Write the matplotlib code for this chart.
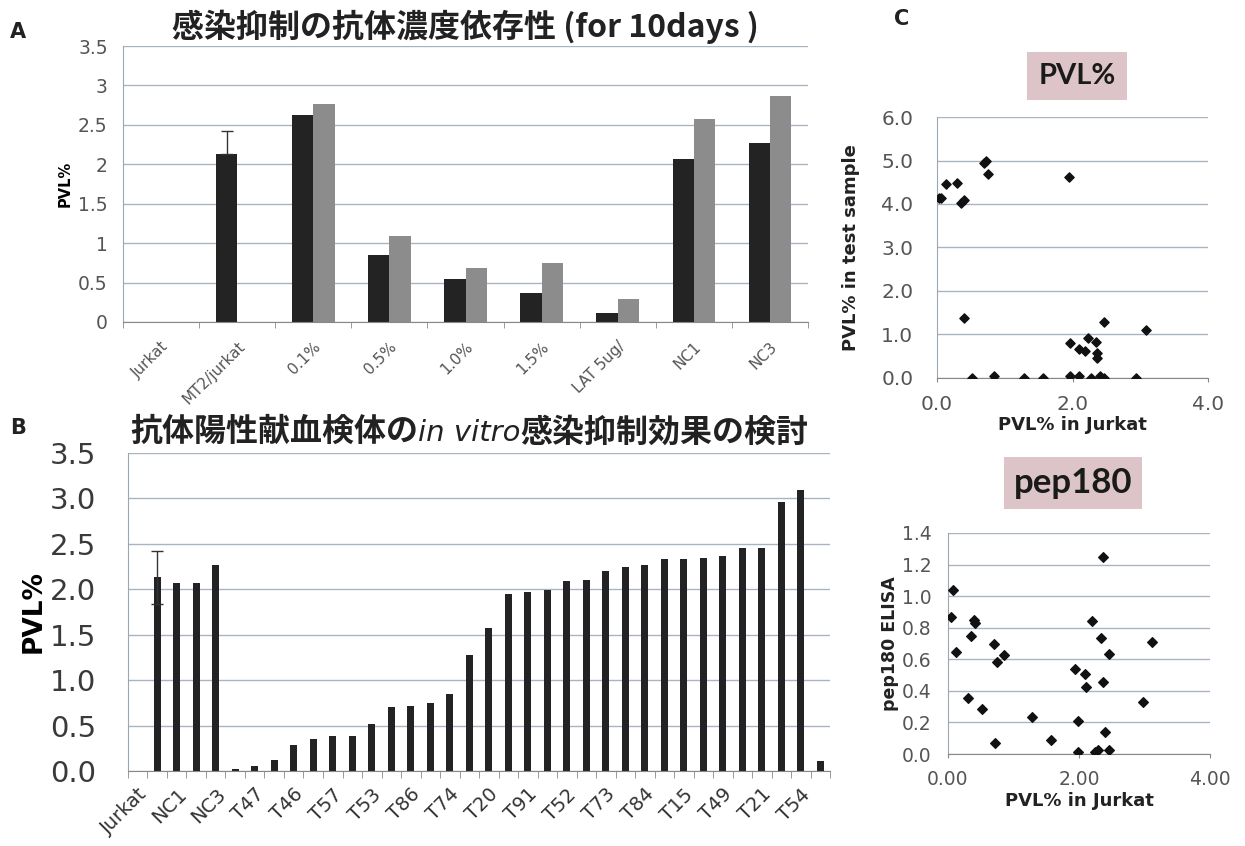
import numpy as np
import matplotlib
matplotlib.use("Agg")
import matplotlib.pyplot as plt
from matplotlib.offsetbox import TextArea, HPacker, AnnotationBbox

plt.rcParams['font.family'] = ['DejaVu Sans', 'Noto Sans CJK JP']

# ---- panel A data ----
a_labels = ["Jurkat", "MT2/jurkat", "0.1%", "0.5%", "1.0%", "1.5%", "LAT 5ug/", "NC1", "NC3"]
a_dark = [np.nan, 2.13, 2.62, 0.85, 0.55, 0.37, 0.11, 2.07, 2.27]
a_gray = [np.nan, np.nan, 2.77, 1.09, 0.68, 0.75, 0.29, 2.57, 2.87]
a_err_top = 2.42  # MT2/jurkat upper error

# ---- panel B data ----
b_values = [0, 2.13, 2.07, 2.07, 2.27, 0.02, 0.05, 0.12, 0.29, 0.35, 0.39, 0.39,
            0.52, 0.70, 0.72, 0.75, 0.85, 1.28, 1.57, 1.95, 1.97, 1.99, 2.09, 2.10,
            2.20, 2.24, 2.27, 2.33, 2.33, 2.34, 2.37, 2.45, 2.46, 2.96, 3.09, 0.11]
b_labels = ["Jurkat", "NC1", "NC3", "T47", "T46", "T57", "T53", "T86", "T74",
            "T20", "T91", "T52", "T73", "T84", "T15", "T49", "T21", "T54"]
b_err = 0.29

# ---- panel C data ----
c1_x = [0.03, 0.06, 0.14, 0.30, 0.35, 0.40, 0.70, 0.73, 0.75, 1.95, 0.40, 0.52,
        0.84, 1.28, 1.56, 1.96, 1.97, 2.10, 2.09, 2.19, 2.23, 2.28, 2.35, 2.36,
        2.36, 2.40, 2.47, 2.47, 2.94, 3.09]
c1_y = [4.14, 4.14, 4.45, 4.48, 4.03, 4.09, 4.94, 4.99, 4.70, 4.61, 1.38, 0.0,
        0.05, 0.0, 0.0, 0.80, 0.05, 0.05, 0.67, 0.61, 0.91, 0.0, 0.83, 0.58,
        0.47, 0.05, 0.0, 1.28, 0.0, 1.10]
c2_x = [0.04, 0.08, 0.12, 0.30, 0.35, 0.40, 0.41, 0.52, 0.70, 0.72, 0.75, 0.85,
        1.28, 1.57, 1.94, 1.98, 1.99, 2.09, 2.11, 2.20, 2.24, 2.29, 2.34, 2.36,
        2.36, 2.40, 2.46, 2.46, 2.97, 3.11]
c2_y = [0.87, 1.04, 0.645, 0.357, 0.748, 0.85, 0.833, 0.285, 0.70, 0.072, 0.586,
        0.626, 0.233, 0.089, 0.537, 0.211, 0.011, 0.505, 0.423, 0.844, 0.011,
        0.025, 0.734, 1.245, 0.455, 0.137, 0.632, 0.025, 0.33, 0.71]

cjk = ['Noto Sans CJK JP', 'DejaVu Sans']
dark = '#232323'
gray = '#8c8c8c'
grid_c = '#a9b4c2'
spine_c = '#9aa6b4'
tick_c = '#555555'

fig = plt.figure(figsize=(12.45, 8.46), dpi=100)


def excel_style(ax):
    ax.spines['top'].set_visible(False)
    ax.spines['right'].set_visible(False)
    ax.spines['left'].set_color(spine_c)
    ax.spines['bottom'].set_color('#888888')
    ax.yaxis.grid(True, color=grid_c, linewidth=1.0)
    ax.set_axisbelow(True)
    ax.tick_params(axis='y', length=0)


# ---------------- Panel A ----------------
axA = fig.add_axes([0.0988, 0.6194, 0.5502, 0.3262])
xa = np.arange(len(a_labels))
w = 0.28
axA.bar(xa - w / 2, a_dark, w, color=dark)
axA.bar(xa + w / 2, a_gray, w, color=gray)
axA.errorbar([1 - w / 2], [a_dark[1]], yerr=[[0], [a_err_top - a_dark[1]]],
             fmt='none', ecolor='#333333', elinewidth=1, capsize=4)
axA.set_xlim(-0.5, len(a_labels) - 0.5)
axA.set_ylim(0, 3.5)
axA.set_yticks(np.arange(0, 3.51, 0.5))
axA.set_yticklabels(["0", "0.5", "1", "1.5", "2", "2.5", "3", "3.5"],
                    fontsize=13.5, color=tick_c)
axA.set_xticks(xa)
axA.set_xticklabels(a_labels, rotation=45, ha='right', rotation_mode='anchor',
                    fontsize=11, color=tick_c)
axA.set_xticks(np.arange(-0.5, len(a_labels), 1), minor=True)
axA.tick_params(axis='x', which='major', length=0, pad=12)
axA.tick_params(axis='x', which='minor', length=4, color='#888888')
excel_style(axA)
axA.tick_params(axis='y', pad=11)
axA.set_ylabel("PVL%", fontsize=10.5, fontweight='bold', labelpad=4)
fig.text(0.3735, 0.968, "感染抑制の抗体濃度依存性 (for 10days )", family=cjk,
         fontsize=23, fontweight='bold', ha='center', va='center', color='#222222')

# ---------------- Panel B ----------------
axB = fig.add_axes([0.1028, 0.0887, 0.5639, 0.3758])
xb = np.arange(len(b_values))
axB.bar(xb, b_values, 0.34, color=dark)
axB.errorbar([1], [b_values[1]], yerr=[[b_err], [b_err]], fmt='none',
             ecolor='#333333', elinewidth=1, capsize=4)
axB.set_xlim(-0.5, len(b_values) - 0.5)
axB.set_ylim(0, 3.5)
axB.set_yticks(np.arange(0, 3.51, 0.5))
axB.set_yticklabels([f"{v:.1f}" for v in np.arange(0, 3.51, 0.5)],
                    fontsize=21, color='#3a3a3a')
axB.set_xticks(np.arange(0, len(b_values), 2))
axB.set_xticklabels(b_labels, rotation=45, ha='right', rotation_mode='anchor',
                    fontsize=14, color='#333333')
axB.set_xticks(np.arange(-0.5, len(b_values), 1), minor=True)
axB.tick_params(axis='x', which='major', length=0, pad=10)
axB.tick_params(axis='x', which='minor', length=5, color='#888888')
excel_style(axB)
axB.tick_params(axis='y', pad=23)
axB.set_ylabel("PVL%", fontsize=19, fontweight='bold', labelpad=2)

parts = [
    TextArea("抗体陽性献血検体の", textprops=dict(family=cjk, fontsize=23, fontweight='bold', color='#222222')),
    TextArea("in vitro", textprops=dict(family='DejaVu Sans', fontsize=21, style='italic', color='#222222')),
    TextArea("感染抑制効果の検討", textprops=dict(family=cjk, fontsize=23, fontweight='bold', color='#222222')),
]
pack = HPacker(children=parts, align='baseline', pad=0, sep=0)
fig.add_artist(AnnotationBbox(pack, (0.377, 0.489), xycoords='figure fraction',
                              frameon=False, box_alignment=(0.5, 0.5)))

# ---------------- Panel C (top) ----------------
axC1 = fig.add_axes([0.7526, 0.5532, 0.2177, 0.3085])
axC1.scatter(c1_x, c1_y, marker='D', s=22, color='#111111', zorder=3)
axC1.set_xlim(0, 4)
axC1.set_ylim(0, 6)
axC1.set_xticks([0, 2, 4])
axC1.set_xticklabels(["0.0", "2.0", "4.0"], fontsize=14.5, color=tick_c)
axC1.set_yticks(np.arange(0, 6.1, 1))
axC1.set_yticklabels([f"{v:.1f}" for v in np.arange(0, 6.1, 1)], fontsize=14.5, color=tick_c)
excel_style(axC1)
axC1.tick_params(axis='x', length=3, color='#888888', pad=9)
axC1.tick_params(axis='y', pad=17)
axC1.set_xlabel("PVL% in Jurkat", fontsize=13, fontweight='bold', labelpad=2, color='#222222')
axC1.set_ylabel("PVL% in test sample", fontsize=13, fontweight='bold', labelpad=15, color='#222222')
fig.text(0.865, 0.910, "PVL%", family=['Lato', 'DejaVu Sans'], fontsize=21, fontweight='bold',
         ha='center', va='center', color='#1a1a1a',
         bbox=dict(facecolor='#dcc4c8', edgecolor='none', pad=8))

# ---------------- Panel C (bottom) ----------------
axC2 = fig.add_axes([0.7614, 0.1087, 0.2105, 0.2613])
axC2.scatter(c2_x, c2_y, marker='D', s=24, color='#111111', zorder=3)
axC2.set_xlim(0, 4)
axC2.set_ylim(0, 1.4)
axC2.set_xticks([0, 2, 4])
axC2.set_xticklabels(["0.00", "2.00", "4.00"], fontsize=13.5, color=tick_c)
axC2.set_yticks(np.arange(0, 1.41, 0.2))
axC2.set_yticklabels([f"{v:.1f}" for v in np.arange(0, 1.41, 0.2)], fontsize=13.5, color=tick_c)
excel_style(axC2)
axC2.tick_params(axis='x', length=3, color='#888888', pad=8.5)
axC2.tick_params(axis='y', pad=12)
axC2.set_xlabel("PVL% in Jurkat", fontsize=13, fontweight='bold', labelpad=2, color='#222222')
axC2.set_ylabel("pep180 ELISA", fontsize=12.5, fontweight='bold', labelpad=2, color='#222222')
fig.text(0.862, 0.429, "pep180", family=['Lato', 'DejaVu Sans'], fontsize=25, fontweight='bold',
         ha='center', va='center', color='#1a1a1a',
         bbox=dict(facecolor='#dcc4c8', edgecolor='none', pad=7))

# panel letters
fig.text(0.008, 0.962, "A", fontsize=15, fontweight='bold', va='center', color='#222222')
fig.text(0.008, 0.494, "B", fontsize=15, fontweight='bold', va='center', color='#222222')
fig.text(0.718, 0.978, "C", fontsize=15, fontweight='bold', va='center', color='#222222')

fig.savefig("out.png", dpi=100)
